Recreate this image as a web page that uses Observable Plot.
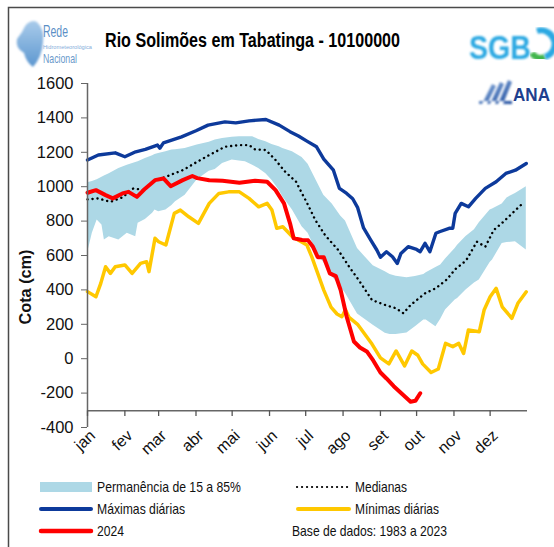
<!DOCTYPE html>
<html>
<head>
<meta charset="utf-8">
<script src="https://cdn.jsdelivr.net/npm/d3@7"></script>
<script src="https://cdn.jsdelivr.net/npm/@observablehq/plot@0.6"></script>
<style>
  html, body { margin: 0; padding: 0; background: #fff; }
  body { width: 554px; height: 547px; position: relative; overflow: hidden; }
  #deco { position: absolute; left: 0; top: 0; }
  #chart { position: absolute; left: 0; top: 60px; }
  .nf { font-family: 'Liberation Sans Narrow', 'Arial Narrow', 'Liberation Sans', Arial, sans-serif; }
</style>
</head>
<body>
<svg id="deco" width="554" height="547" class="nf">
  <defs>
    <filter id="soft"><feGaussianBlur stdDeviation="1.0"/></filter>
    <linearGradient id="mapg" x1="0" y1="0" x2="0" y2="1">
      <stop offset="0" stop-color="#a9cbea"/>
      <stop offset="1" stop-color="#5d97d0"/>
    </linearGradient>
    <linearGradient id="anag" x1="0" y1="0" x2="1" y2="1">
      <stop offset="0" stop-color="#8fb3e0"/>
      <stop offset="1" stop-color="#1f4d9e"/>
    </linearGradient>
  </defs>
  <path d="M8.5,560 V7.5 H560" stroke="#4a4a4a" stroke-width="1.5" fill="none"/>
  <!-- Rede Hidrometeorológica Nacional -->
  <path d="M22,32 Q28,18 37,22 Q45,30 43,42 Q42,57 33,67 Q26,62 24,53 Q15,48 17,39 Z" fill="url(#mapg)" filter="url(#soft)"/>
  <text x="43" y="37" font-size="16" fill="#5b8fc6" textLength="25" lengthAdjust="spacingAndGlyphs">Rede</text>
  <text x="43" y="49" font-size="5.5" fill="#86aedb" textLength="49" lengthAdjust="spacingAndGlyphs">Hidrometeorológica</text>
  <text x="43" y="63" font-size="13" fill="#6a99cb" textLength="34" lengthAdjust="spacingAndGlyphs">Nacional</text>
  <!-- title -->
  <text x="105" y="46.5" font-size="19.5" font-weight="bold" fill="#000" textLength="295" lengthAdjust="spacingAndGlyphs">Rio Solimões em Tabatinga - 10100000</text>
  <!-- SGB logo -->
  <text x="469" y="59" font-family="'Liberation Sans', Arial, sans-serif" font-size="34" font-weight="bold" fill="#2aa8e2" textLength="62" lengthAdjust="spacingAndGlyphs" filter="url(#soft)">SGB</text>
  <path d="M532,53 A10,10 0 0 0 545,57" stroke="#3fb54b" stroke-width="6" fill="none" filter="url(#soft)"/>
  <path d="M537,31 A12,12 0 0 1 545,57" stroke="#2aa8e2" stroke-width="6" fill="none" filter="url(#soft)"/>
  <!-- ANA logo -->
  <path d="M482,104 L492,84 L496,86 L487,104 Z M490,104 L500,82 L504,84 L495,104 Z M498,104 L508,80 L512,82 L503,104 Z M479,104 H512 V101 H479 Z" fill="url(#anag)" filter="url(#soft)"/>
  <text x="513" y="101" font-family="'Liberation Sans', Arial, sans-serif" font-size="18" font-weight="bold" fill="#1f3f8e" textLength="37" lengthAdjust="spacingAndGlyphs">ANA</text>
  <!-- y title -->
  <text transform="translate(31,287) rotate(-90)" text-anchor="middle" font-size="17" font-weight="bold" fill="#111" textLength="75" lengthAdjust="spacingAndGlyphs">Cota (cm)</text>
  <!-- legend -->
  <rect x="40" y="482" width="52" height="10" fill="#add8e6"/>
  <text x="97" y="492" font-size="14.8" fill="#111" textLength="144" lengthAdjust="spacingAndGlyphs">Permanência de 15 a 85%</text>
  <line x1="41" y1="509" x2="91" y2="509" stroke="#0d3a9b" stroke-width="4" stroke-linecap="round"/>
  <text x="97" y="514" font-size="14.8" fill="#111" textLength="88" lengthAdjust="spacingAndGlyphs">Máximas diárias</text>
  <line x1="41" y1="531" x2="91" y2="531" stroke="#ff0000" stroke-width="4.5" stroke-linecap="round"/>
  <text x="97" y="536" font-size="14.8" fill="#111" textLength="27" lengthAdjust="spacingAndGlyphs">2024</text>
  <line x1="297" y1="487" x2="348" y2="487" stroke="#000" stroke-width="2.2" stroke-dasharray="0.1 4.9" stroke-linecap="round"/>
  <text x="355" y="492" font-size="14.8" fill="#111" textLength="52" lengthAdjust="spacingAndGlyphs">Medianas</text>
  <line x1="298" y1="509" x2="349" y2="509" stroke="#ffc800" stroke-width="4" stroke-linecap="round"/>
  <text x="355" y="514" font-size="14.8" fill="#111" textLength="84" lengthAdjust="spacingAndGlyphs">Mínimas diárias</text>
  <text x="292" y="536" font-size="14.8" fill="#111" textLength="155" lengthAdjust="spacingAndGlyphs">Base de dados: 1983 a 2023</text>
</svg>
<div id="chart"></div>
<script>
// x = day of year (0 = 1 jan), y = cota (cm)
const monthDays = [0, 31, 59, 90, 120, 151, 181, 212, 243, 273, 304, 334];
const monthLabels = ["jan", "fev", "mar", "abr", "mai", "jun", "jul", "ago", "set", "out", "nov", "dez"];
const yTicks = [-400, -200, 0, 200, 400, 600, 800, 1000, 1200, 1400, 1600];

// Permanência de 15 a 85%: [day, low, high]
const band = [
  [0, 612, 1023], [4, 729, 1030], [8, 806, 1040], [12, 777, 1055], [14, 690, 1062], [18, 709, 1075],
  [26, 690, 1106], [33, 729, 1125], [40, 709, 1140], [42, 787, 1145], [48, 810, 1164], [54, 845, 1180],
  [56, 864, 1187], [59, 855, 1193], [65, 864, 1203], [70, 890, 1213], [73, 912, 1215], [81, 950, 1222],
  [91, 1040, 1242], [101, 1090, 1258], [106, 1100, 1271], [112, 1135, 1280], [120, 1155, 1287],
  [126, 1150, 1290], [131, 1145, 1290], [137, 1125, 1290], [142, 1106, 1275], [148, 1075, 1261],
  [153, 1038, 1245], [159, 980, 1232], [162, 941, 1222], [170, 864, 1203], [178, 767, 1170],
  [183, 730, 1130], [192, 593, 1005], [196, 560, 950], [203, 477, 900], [210, 420, 830], [214, 380, 800],
  [224, 260, 640], [237, 195, 540], [247, 148, 505], [251, 140, 490], [256, 140, 480], [265, 150, 470],
  [272, 186, 478], [279, 225, 490], [281, 225, 500], [289, 186, 530], [293, 230, 545], [297, 283, 580],
  [305, 341, 640], [307, 350, 660], [314, 399, 710], [321, 440, 750], [325, 457, 790], [334, 560, 865],
  [336, 574, 870], [344, 670, 900], [348, 675, 935], [355, 680, 960], [364, 632, 999]
];

// Medianas
const medianSeries = [
  [0, 926], [9, 932], [19, 912], [29, 938], [38, 990], [47, 980], [54, 1029], [65, 1058], [79, 1096],
  [91, 1145], [101, 1184], [114, 1232], [126, 1242], [134, 1242], [139, 1217], [148, 1213], [156, 1155],
  [164, 1087], [173, 1029], [178, 960], [183, 893], [189, 806], [197, 719], [208, 632], [217, 535],
  [225, 457], [236, 341], [247, 312], [256, 293], [262, 264], [268, 312], [280, 380], [289, 410],
  [298, 460], [305, 520], [314, 570], [323, 680], [330, 651], [337, 748], [345, 796], [353, 850], [361, 903]
];

// Máximas diárias
const maxSeries = [
  [0, 1155], [9, 1184], [23, 1197], [31, 1174], [40, 1203], [48, 1217], [58, 1242], [60, 1224], [63, 1255],
  [78, 1290], [90, 1325], [100, 1358], [114, 1377], [123, 1371], [134, 1383], [148, 1391], [159, 1358],
  [168, 1320], [175, 1295], [182, 1265], [190, 1232], [196, 1160], [204, 1096], [209, 990], [215, 961],
  [220, 930], [224, 880], [229, 760], [235, 690], [240, 632], [243, 590], [248, 622], [253, 593],
  [257, 554], [260, 612], [266, 651], [273, 635], [276, 622], [280, 671], [284, 622], [289, 729],
  [292, 738], [300, 758], [303, 758], [305, 845], [310, 903], [316, 883], [322, 932], [330, 990],
  [339, 1029], [347, 1077], [355, 1096], [364, 1135]
];

// Mínimas diárias
const minSeries = [
  [0, 390], [7, 360], [11, 438], [15, 535], [19, 496], [23, 535], [31, 545], [37, 496], [44, 554],
  [49, 564], [51, 506], [56, 700], [59, 680], [65, 661], [72, 845], [77, 864], [84, 825], [92, 787],
  [101, 903], [109, 961], [117, 970], [126, 970], [134, 932], [142, 883], [149, 903], [153, 864],
  [157, 758], [162, 767], [170, 709], [182, 661], [186, 593], [196, 399], [202, 300], [207, 260],
  [211, 244], [214, 285], [217, 240], [224, 200], [236, 85], [243, 5], [250, -30], [256, 45], [263, -42],
  [269, 45], [274, 20], [278, -30], [285, -80], [291, -60], [297, 89], [303, 70], [308, 89], [312, 31],
  [316, 167], [325, 157], [329, 283], [334, 360], [339, 409], [344, 302], [352, 235], [357, 322], [364, 389]
];

// 2024
const series2024 = [
  [0, 965], [7, 980], [15, 951], [21, 932], [29, 961], [34, 970], [41, 941], [48, 990], [56, 1038],
  [63, 1048], [69, 1003], [79, 1038], [87, 1062], [91, 1050], [101, 1038], [112, 1034], [126, 1023],
  [139, 1034], [149, 1029], [156, 980], [163, 903], [168, 787], [171, 700], [178, 690], [183, 688],
  [187, 651], [191, 590], [196, 590], [201, 496], [206, 480], [210, 399], [215, 244], [221, 100],
  [226, 65], [232, 40], [237, -10], [243, -80], [248, -115], [254, -160], [261, -205], [268, -250],
  [272, -245], [276, -201]
];

const xAxisLevel = -303;
const fontNarrow = "'Liberation Sans Narrow', 'Arial Narrow', 'Liberation Sans', Arial, sans-serif";

const chart = Plot.plot({
  width: 554,
  height: 400,
  marginLeft: 87,
  marginRight: 27,
  marginTop: 23,
  marginBottom: 33,
  style: { fontFamily: fontNarrow, background: "transparent", overflow: "visible", color: "#111" },
  x: { domain: [0, 365], axis: null },
  y: { domain: [-400, 1600], axis: null },
  marks: [
    Plot.areaY(band, { x: d => d[0], y1: d => d[1], y2: d => d[2], fill: "#add8e6" }),
    Plot.line(maxSeries, { x: d => d[0], y: d => d[1], stroke: "#0d3a9b", strokeWidth: 3.4 }),
    Plot.line(minSeries, { x: d => d[0], y: d => d[1], stroke: "#ffc800", strokeWidth: 3.5 }),
    Plot.line(medianSeries, { x: d => d[0], y: d => d[1], stroke: "#000", strokeWidth: 2.4, strokeDasharray: "0.1 4.9", strokeLinecap: "round" }),
    Plot.line(series2024, { x: d => d[0], y: d => d[1], stroke: "#ff0000", strokeWidth: 4 }),
    Plot.ruleX([0], { y1: -400, y2: 1600, stroke: "#666", strokeWidth: 1.5 }),
    Plot.ruleY([xAxisLevel], { x1: 0, x2: 365, stroke: "#666", strokeWidth: 1.5 }),
    Plot.ruleX(monthDays, { y1: xAxisLevel, y2: xAxisLevel - 33, stroke: "#555", strokeWidth: 1.3 }),
    Plot.axisY(yTicks, { tickSize: 6, tickPadding: 8, fontSize: 16.5, stroke: "#666", fill: "#111", label: null, tickFormat: d => String(d) }),
    Plot.text(monthLabels, { x: (d, i) => monthDays[i], y: -400, text: d => d, rotate: -43, textAnchor: "end", lineAnchor: "top", dy: 1, dx: 1, fontSize: 16, fill: "#111" })
  ]
});
document.getElementById("chart").appendChild(chart);
</script>
</body>
</html>
